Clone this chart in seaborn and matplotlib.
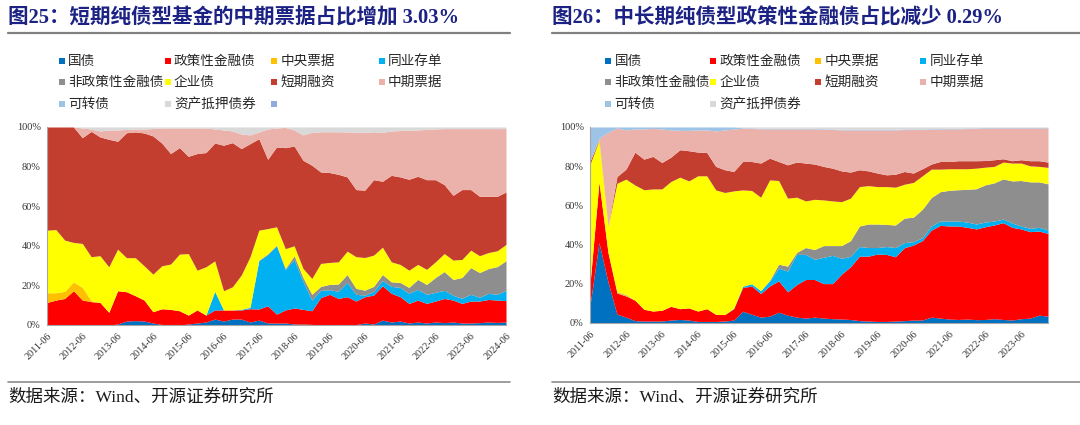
import numpy as np
import pandas as pd
import matplotlib
matplotlib.use("Agg")
import matplotlib.pyplot as plt
import seaborn as sns
from matplotlib.lines import Line2D
from matplotlib.patches import Rectangle
from matplotlib.ticker import PercentFormatter

# Series order is the stacking order, bottom to top.
SERIES = ["国债", "政策性金融债", "中央票据", "同业存单", "非政策性金融债",
          "企业债", "短期融资", "中期票据", "可转债", "资产抵押债券", ""]
COLORS = ["#0070C0", "#FF0000", "#FFC000", "#00B0F0", "#8E8E8E",
          "#FFFF00", "#C43E2F", "#EBB2AB", "#9DC3E6", "#D9D9D9", "#8FAADC"]

# ---- 图25: 短期纯债型基金 (2011-06 .. 2024-06, quarterly) ----
short_gov = [0, 0, 0, 0, 0, 0, 0, 0,
             0.5, 2, 2.2, 2, 1, 0.3, 0, 0,
             0.5, 1, 1.5, 3, 2, 3, 3, 1.5,
             2.5, 1, 1, 1, 0.5, 0.5, 0.3, 0,
             0, 0.3, 0, 0.2, 1, 0.5, 2.5, 1.5,
             2, 1, 1.5, 1, 1.5, 1.2, 1.5, 1,
             1, 1.2, 1.5, 1.3, 1.5]
short_policy = [11.4, 12.6, 13.4, 17.3, 12.6, 11.8, 11.4, 6.4,
                16.8, 14.8, 12.6, 10.6, 5.7, 7.9, 7.9, 7.2,
                4.5, 6.6, 3.5, 4.6, 5.6, 4.6, 4.6, 6.7,
                5.6, 8.7, 4.5, 6.6, 8.1, 7.4, 6.9, 13.8,
                15.5, 13.1, 14.3, 11.9, 13.3, 14.6, 17.3, 14.5,
                12.3, 9.9, 11.1, 9.9, 10.6, 12.2, 11.1, 9.9,
                11.1, 10.9, 11.4, 11.3, 10.8]
short_cbill = [4.9, 3.7, 3.6, 4.5, 6.4, 0.5] + [0] * 47
short_ncd = [0] * 16 + [0, 0, 0, 9.4, 0, 0, 0.3, 0.6,
                        24.4, 25.8, 34.5, 20.4, 24.4, 14.1, 5.4, 3.7,
                        2.3, 3.6, 7.2, 3.4, 0.8, 1.9, 2.7, 3.5,
                        4.7, 5.1, 5.4, 4.6, 4.4, 4.1, 2.4, 2.6,
                        3.4, 1.9, 3.1, 2.9, 5.2]
short_fin = [0] * 23 + [0.3,
                        0.3, 0.5, 0.3, 0.5, 2, 2, 2.9, 2,
                        2.7, 3.7, 4, 3, 2.5, 2.5, 3, 2.3,
                        2.5, 3, 5, 5, 7.5, 9.5, 8, 10.5,
                        13.5, 12.5, 12.5, 14, 15]
short_corp = [31.6, 31.9, 25.9, 19.9, 22.2, 22.2, 23.6, 23,
              21, 17.2, 19.2, 17.3, 19, 21.7, 22.9, 28.6,
              31.1, 20.1, 24.4, 15.4, 9.7, 11.7, 17.3, 25.4,
              15.1, 12.7, 9.3, 10, 5, 4.6, 8, 11.6,
              11.1, 11.2, 11.8, 16, 16.5, 15.8, 13.8, 10.1,
              9.1, 8.7, 7.6, 7.6, 7.9, 9.1, 9.8, 9.1,
              8.8, 8.5, 8.1, 8, 8.2]
short_cp = [52.1, 51.8, 57.1, 58.3, 53.4, 63.3, 60, 64.4,
            54.5, 63.1, 63.5, 67.1, 69.8, 62, 55.8, 53.8,
            49.1, 58.9, 57.7, 59.5, 73.5, 72.8, 63.9, 57.1,
            46.2, 35, 40.3, 50.9, 50.4, 54.6, 57.2, 46.2,
            45.4, 44.2, 37.5, 33.9, 34, 38.1, 33.3, 43.7,
            44.2, 45.9, 44.5, 45.3, 41.5, 34.8, 32.7, 35.3,
            30.6, 30, 28.4, 27.5, 26.5]
short_mtn = [0, 0, 0, 0, 4.9, 1.2, 3, 4.7,
             5.7, 1.7, 1.5, 2, 3.7, 7.6, 12.9, 9.9,
             14.3, 12.9, 12.4, 7.1, 7.7, 5.9, 7.4, 4.4,
             3.4, 15.3, 9.6, 10.2, 8.1, 12.8, 16.6, 20.3,
             20.6, 21.5, 22.7, 29, 29.2, 24.2, 24.7, 22.4,
             23.4, 24.9, 23.4, 25.4, 25.6, 28.3, 33.7, 30.8,
             30.8, 34.2, 34.2, 34.2, 32]
short_conv = [0] * 53
short_abs = [0, 0, 0, 0, 0.5, 1, 2, 1.5,
             1.5, 1.2, 1, 1, 0.8, 0.5, 0.5, 0.5,
             0.5, 0.5, 0.5, 1, 1.5, 2, 3.5, 4,
             2.5, 1, 0.5, 0.2, 1.5, 4, 2.7, 2.4,
             2.4, 2.4, 2.5, 2.6, 2.7, 2.4, 2.7, 2,
             1.8, 1.5, 1.5, 1.2, 1, 0.8, 0.8, 0.8,
             0.8, 0.8, 0.8, 0.8, 0.8]
short_other = [0] * 53

# ---- 图26: 中长期纯债型基金 (2011-06 .. 2024-03, quarterly) ----
long_gov = [9, 41, 21, 4.5, 3, 1.2, 1, 1,
            1, 1.5, 1.8, 1.5, 0.8, 0.8, 0.8, 1,
            1.5, 6, 4.5, 3, 3.5, 5.5, 4, 3,
            2.5, 3, 2.5, 2.2, 2, 1.8, 1.2, 1,
            0.8, 0.8, 1, 1.2, 1.5, 1.5, 3, 2.5,
            2, 1.8, 2, 1.7, 1.8, 2.2, 1.8, 1.5,
            2.2, 2.5, 4, 3.5]
long_policy = [11, 31, 15, 10.8, 10.8, 10.4, 6, 5.1,
               5.5, 7, 5.5, 6.2, 5.3, 6.5, 3.6, 3.3,
               5.8, 12.1, 14.4, 12, 15.4, 16, 11.9, 16.6,
               19.7, 19.2, 17.6, 17.9, 22.9, 26.9, 32.9, 33.1,
               34.4, 34.2, 32.8, 37.2, 38.3, 40.5, 44.4, 47.3,
               47.5, 47.7, 46.8, 46.3, 47.3, 47.8, 49.4, 47.3,
               45.8, 44.1, 42.9, 42.2]
long_cbill = [0, 0, 0, 0.3, 0.4] + [0] * 47
long_ncd = [0] * 16 + [0.3, 0.7, 1.1, 1.5, 2.6, 6.5, 10.6, 15.4,
                       12.8, 10.3, 13.4, 14.4, 8.1, 5.3, 4.9, 4.4,
                       3.3, 4, 4.7, 2.6, 1.7, 1.5, 2.1, 2.2,
                       2.5, 2.5, 2.7, 2.5, 2.4, 2, 1.8, 2.2,
                       1.5, 1.7, 1.9, 1.8]
long_fin = [0, 0, 0, 0.3, 0.3, 0, 0, 0] + [0] * 8 + [
            0, 0, 0, 0, 0.3, 2, 2.5, 1,
            3.5, 5, 6, 5, 6.5, 8, 10.5, 12,
            12, 11.3, 11.5, 12.5, 12.5, 14.5, 14.5, 15,
            15.7, 16, 16.7, 18, 19, 19.5, 20.5, 21.5,
            23.2, 23.7, 23.2, 23.5]
long_corp = [61, 21.2, 13.3, 55.4, 58.9, 58.6, 61, 62.3,
             61.9, 63.7, 67.1, 64.8, 69, 67.8, 63.5, 62.3,
             59.8, 49.1, 47.6, 47.7, 51.2, 42.7, 34.7, 28.2,
             23.8, 25.6, 23.3, 22.8, 22.4, 21.7, 20.1, 19.6,
             19.1, 19.3, 19.3, 17.3, 17.7, 17.1, 14.5, 11.5,
             11, 10.7, 10.5, 10.5, 9, 8.4, 8.6, 9.1,
             8.9, 8.2, 7.9, 8.4]
long_cp = [1.5, 0.5, 0, 3.4, 5.1, 16.7, 15.6, 16.6,
           13.5, 12.4, 14, 15.4, 12.1, 11.9, 12, 11.6,
           9.9, 14.5, 14.8, 17.4, 11.1, 9.7, 17, 17.9,
           19.3, 18, 17.1, 16.7, 15.7, 13.3, 8.6, 7.5,
           6.9, 6, 6.6, 6.5, 4.8, 3.6, 2.6, 3.9,
           3.7, 4.1, 4.1, 3.8, 3.4, 3.4, 1.7, 1.2,
           1.7, 2.6, 2.9, 2.7]
long_mtn = [0, 0.6, 48, 24.8, 20, 11.8, 15.4, 14.3,
            17.1, 13.9, 9.9, 10.4, 11.3, 11.5, 18.1, 20.3,
            21.7, 16.9, 16.9, 17.4, 14.9, 16.6, 18.3, 16.9,
            17.4, 17.9, 18.9, 19.7, 20.9, 21.5, 20.3, 20.9,
            22, 22.9, 22.6, 21.4, 22.2, 20, 17.7, 16.6,
            16.6, 16.2, 16.4, 16.4, 16.6, 16.2, 15.7, 16.7,
            16.2, 16.7, 16.7, 17.4]
long_conv = [17.5, 5.7, 2.7, 0.5, 1.5, 1, 1, 0.7,
             1, 1.5, 1.7, 1.7, 1.5, 1.5, 2, 1.5,
             1] + [0.3] * 35
long_abs = [0] * 16 + [0, 0.4, 0.4, 0.7, 0.7, 0.7, 0.7, 0.7,
                       0.7, 0.7, 0.9, 1, 1.2, 1.2, 1.2, 1.2,
                       1.2, 1.2, 1.2, 1, 1, 1, 0.9, 0.7,
                       0.7, 0.7, 0.5, 0.5, 0.2, 0.2, 0.2, 0.2,
                       0.2, 0.2, 0.2, 0.2]

SHORT = [short_gov, short_policy, short_cbill, short_ncd, short_fin, short_corp,
         short_cp, short_mtn, short_conv, short_abs, short_other]
LONG = [long_gov, long_policy, long_cbill, long_ncd, long_fin, long_corp,
        long_cp, long_mtn, long_conv, long_abs]

W, H = 1080, 425
CJK = ["Noto Sans CJK SC", "DejaVu Sans"]
MIXED = ["Liberation Serif", "Noto Sans CJK SC"]
NAVY = "#1B2283"


def fx(px):
    return px / W


def fy(py):
    return 1 - py / H


def draw_panel(fig, rect, start, series, title, title_x, line_x1, legend_x):
    n = len(series[0])
    df = pd.DataFrame(dict(zip(SERIES[:len(series)], series)))
    df = df.div(df.sum(axis=1), axis=0) * 100
    dates = pd.date_range(start, periods=n, freq="3MS").strftime("%Y-%m")

    ax = fig.add_axes(rect)
    x = np.arange(n)
    ax.stackplot(x, df.T.values, colors=COLORS[:len(series)], linewidth=0)
    ax.set_xlim(0, n - 1)
    ax.set_ylim(0, 100)
    ax.set_xticks(x[::4])
    ax.set_xticklabels(dates[::4], rotation=45, ha="right", rotation_mode="anchor",
                       family="Liberation Serif", fontsize=7.3, color="#333333")
    ax.set_yticks(range(0, 101, 20))
    ax.yaxis.set_major_formatter(PercentFormatter(decimals=0))
    for lab in ax.get_yticklabels():
        lab.set_family("Liberation Serif")
        lab.set_fontsize(7.5)
        lab.set_color("#333333")
    ax.tick_params(axis="both", length=2.5, width=0.6, color="#999999", pad=2)
    sns.despine(ax=ax)
    for side in ("left", "bottom"):
        ax.spines[side].set_color("#A6A6A6")
        ax.spines[side].set_linewidth(0.8)

    # title + rules
    fig.text(fx(title_x), fy(18), title, family=MIXED, fontsize=14.8, weight="bold",
             color=NAVY, va="center", ha="left")
    fig.add_artist(Line2D([fx(title_x), fx(line_x1)], [fy(32.5), fy(32.5)],
                          transform=fig.transFigure, color="#808080", lw=1.6))
    fig.add_artist(Line2D([fx(title_x), fx(line_x1)], [fy(381.5), fy(381.5)],
                          transform=fig.transFigure, color="#8C8C8C", lw=1.2))
    fig.text(fx(title_x), fy(398), "数据来源：Wind、开源证券研究所", family=MIXED,
             fontsize=12.6, color="#1A1A1A", va="center", ha="left")

    # legend, 4 columns
    rows = [61, 82, 104]
    for k in range(len(series)):
        cx = legend_x[k % 4]
        cy = rows[k // 4]
        fig.add_artist(Rectangle((fx(cx), fy(cy + 3.2)), 6.4 / W, 6.4 / H,
                                 transform=fig.transFigure, color=COLORS[k], lw=0))
        fig.text(fx(cx + 9.5), fy(cy), SERIES[k], family=CJK, fontsize=9.8,
                 color="#262626", va="center", ha="left")
    return ax


sns.set_theme(style="white")
plt.rcParams["font.family"] = CJK
plt.rcParams["axes.unicode_minus"] = False

fig = plt.figure(figsize=(W / 100, H / 100), dpi=100)
fig.patch.set_facecolor("white")

draw_panel(fig, [fx(47), fy(325), (506 - 47) / W, (325 - 127) / H], "2011-06-01", SHORT,
           "图25：短期纯债型基金的中期票据占比增加 3.03%", 8, 510,
           [58.5, 164.5, 271, 378.5])
draw_panel(fig, [fx(590), fy(323), (1048 - 590) / W, (323 - 127) / H], "2011-06-01", LONG,
           "图26：中长期纯债型政策性金融债占比减少 0.29%", 552, 1080,
           [605, 710, 815, 920])

fig.savefig("out.png", dpi=100, facecolor="white")
